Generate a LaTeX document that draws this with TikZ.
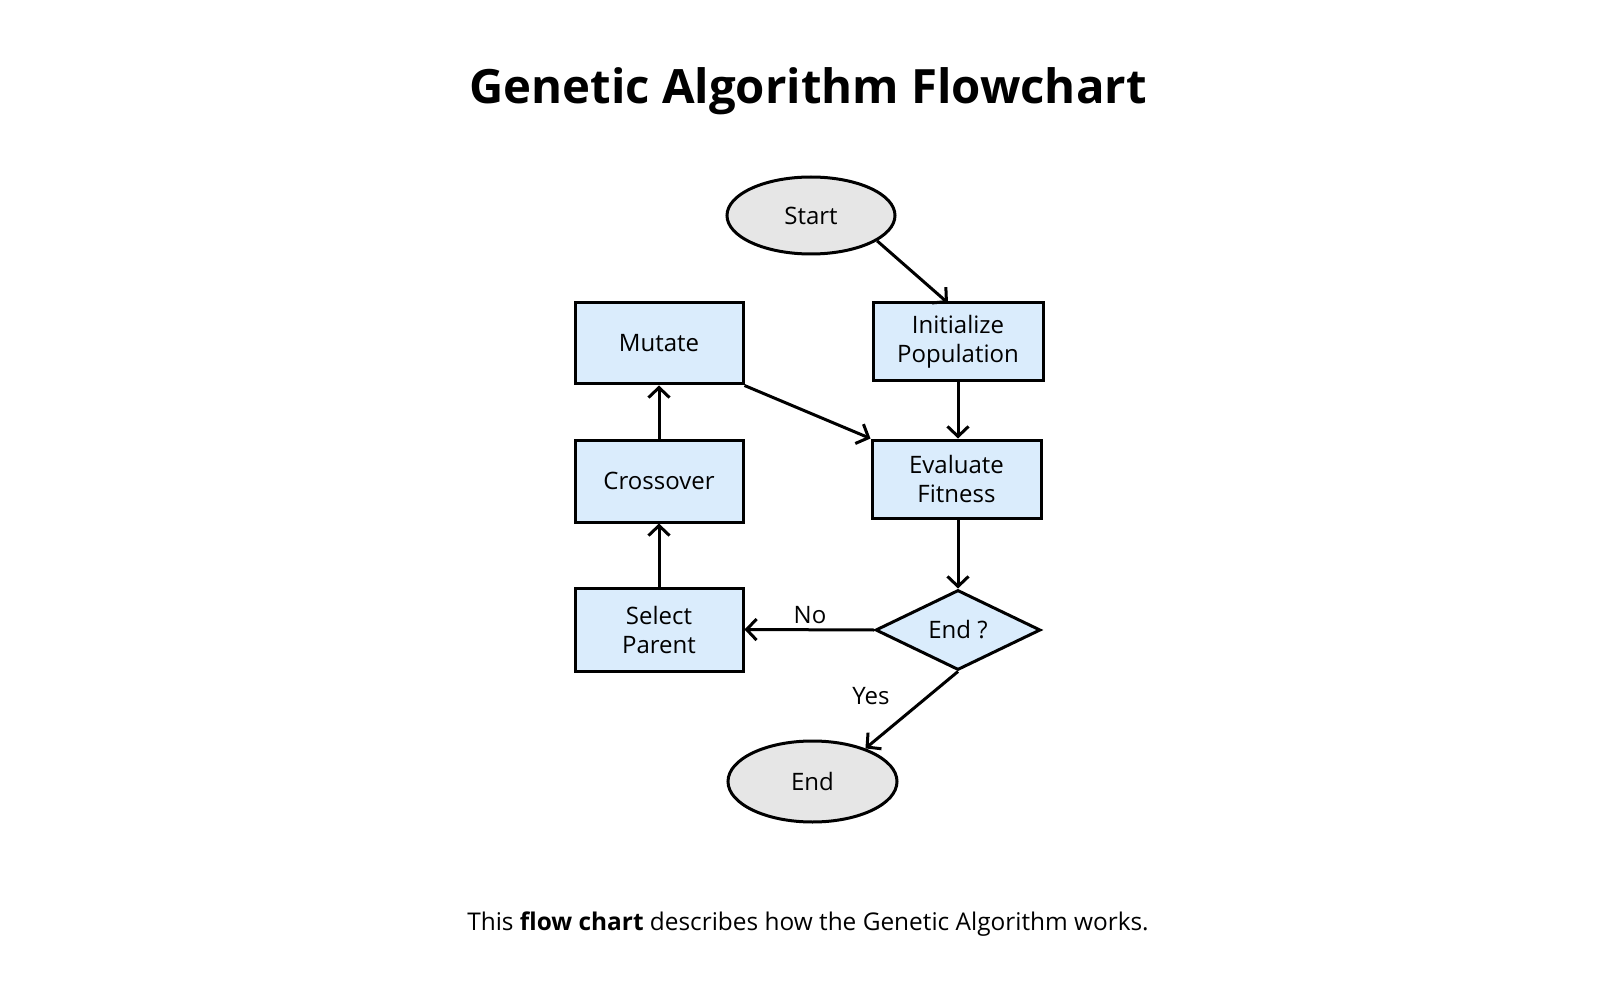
\documentclass[tikz,border=0pt]{standalone}
\usepackage{fontspec}
\setmainfont{Open Sans}
\usetikzlibrary{shapes.geometric,arrows.meta}
\definecolor{boxfill}{HTML}{DAECFC}
\definecolor{ovalfill}{HTML}{E6E6E6}
\tikzset{
  px/.style={x=1pt,y=-1pt},
  procbox/.style={draw=black,line width=3pt,fill=boxfill,rectangle,inner sep=0pt,align=center,font=\fontsize{24}{29}\selectfont},
  ovalnode/.style={draw=black,line width=3pt,fill=ovalfill,ellipse,inner sep=0pt,font=\fontsize{24}{29}\selectfont},
  decnode/.style={draw=black,line width=3pt,fill=boxfill,diamond,inner sep=0pt,font=\fontsize{24}{29}\selectfont},
  conn/.style={draw=black,line width=3pt,-{Straight Barb[length=10pt,width=21pt,line width=3pt]}},
  lbl/.style={font=\fontsize{24}{29}\selectfont,inner sep=0pt}
}
\begin{document}
\begin{tikzpicture}[px]
\useasboundingbox (0,0) rectangle (1618,1000);
\fill[white] (0,0) rectangle (1618,1000);
\node[font=\fontsize{47.3}{56}\bfseries\selectfont] (title) at (808,91) {Genetic Algorithm Flowchart};
\node[ovalnode,minimum width=168pt,minimum height=77pt] (start) at (811,215.5) {Start};
\node[procbox,minimum width=170pt,minimum height=78pt] (init) at (958,342) {Initialize\\Population};
\node[procbox,minimum width=168pt,minimum height=81pt] (mutate) at (659,343.5) {Mutate};
\node[procbox,minimum width=168pt,minimum height=82pt] (cross) at (659,481) {Crossover};
\node[procbox,minimum width=169pt,minimum height=78pt] (eval) at (956.5,479) {Evaluate\\Fitness};
\node[procbox,minimum width=168pt,minimum height=83pt] (select) at (659,629.5) {Select\\Parent};
\node[decnode,minimum width=165pt,minimum height=80pt] (dec) at (958,630) {End ?};
\node[ovalnode,minimum width=169pt,minimum height=81pt] (end) at (812.5,781.5) {End};
\node[lbl] (no) at (810,615) {No};
\node[lbl] (yes) at (871,696) {Yes};
\coordinate (inittop) at (948,303);
\draw[conn] (start.-21) -- (inittop);
\draw[conn] (init.south) -- (eval.north -| init.south);
\draw[conn] (mutate.south east) -- (eval.north west);
\draw[conn] (cross.north) -- (mutate.south);
\draw[conn] (select.north) -- (cross.south);
\draw[conn] (eval.south -| dec.north) -- (dec.north);
\draw[conn] (dec.west) -- (select.east);
\draw[conn] (dec.south) -- (end.32);
\node[font=\fontsize{24.4}{29}\selectfont] (caption) at (808,924) {This \textbf{flow chart} describes how the Genetic Algorithm works.};
\end{tikzpicture}
\end{document}
